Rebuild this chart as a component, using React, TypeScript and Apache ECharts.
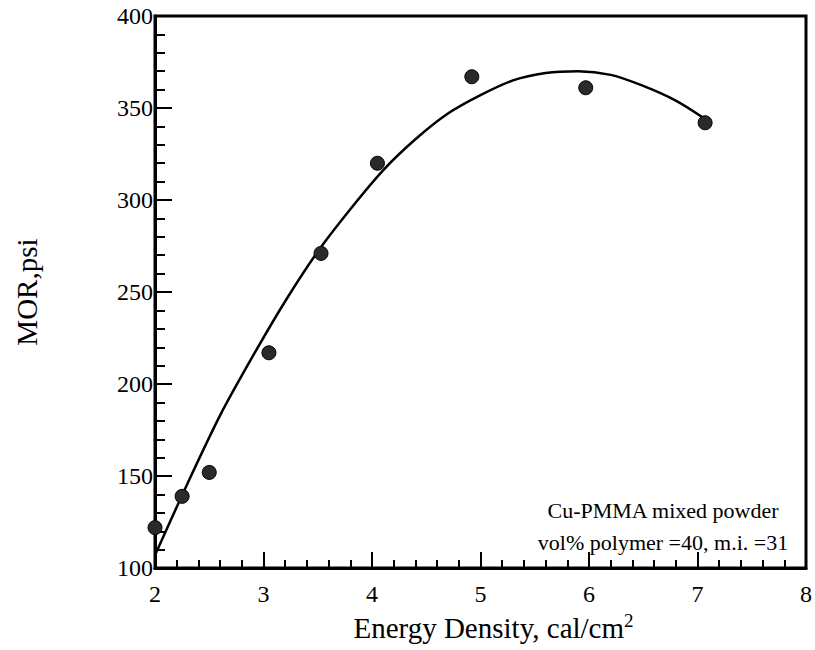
import React, { useEffect, useRef } from "react";
import * as echarts from "echarts";

// Measured points (Energy Density, MOR)
const energyDensity = [2.0, 2.25, 2.5, 3.05, 3.53, 4.05, 4.92, 5.97, 7.07];
const mor = [122, 139, 152, 217, 271, 320, 367, 361, 342];

// Fitted curve
const curveX = [2.0, 2.3, 2.6, 2.9, 3.2, 3.5, 3.8, 4.1, 4.4, 4.7, 5.0, 5.3, 5.6, 5.9, 6.2, 6.5, 6.8, 7.07];
const curveY = [107, 146, 183, 215, 245, 272, 295, 316, 333, 347, 357, 365, 369, 370, 368, 362, 354, 344];

const xTicks = [2, 3, 4, 5, 6, 7, 8];
const yTicks = [100, 150, 200, 250, 300, 350, 400];

const note = ["Cu-PMMA mixed powder", "vol% polymer =40, m.i. =31"];

const FONT = "'Liberation Serif', 'DejaVu Serif', serif";

export default function App() {
  const ref = useRef<HTMLDivElement>(null);
  useEffect(() => {
    if (!ref.current) return;
    const chart = echarts.init(ref.current, undefined, { renderer: "svg" });
    chart.setOption({
      animation: false,
      backgroundColor: "#fff",
      grid: {
        left: 155,
        right: 4,
        top: 16,
        bottom: 75,
        show: true,
        borderColor: "#000",
        borderWidth: 3,
      },
      xAxis: {
        type: "value",
        min: xTicks[0],
        max: xTicks[xTicks.length - 1],
        interval: 1,
        name: "Energy Density, cal/cm{sup|2}",
        nameLocation: "middle",
        nameGap: 36,
        nameTextStyle: {
          fontFamily: FONT,
          fontSize: 29,
          color: "#000",
          lineHeight: 34,
          padding: [0, 0, 0, 26],
          rich: {
            sup: { fontFamily: FONT, fontSize: 19, verticalAlign: "top", lineHeight: 34, color: "#000" },
          },
        },
        axisLine: { show: true, lineStyle: { color: "#000", width: 3 } },
        axisTick: { show: true, inside: true, length: 16, lineStyle: { color: "#000", width: 2 } },
        minorTick: { show: true, splitNumber: 5, length: 8, lineStyle: { color: "#000", width: 2 } },
        axisLabel: { fontFamily: FONT, fontSize: 24, color: "#000", margin: 14 },
        splitLine: { show: false },
      },
      yAxis: {
        type: "value",
        min: yTicks[0],
        max: yTicks[yTicks.length - 1],
        interval: 50,
        name: "MOR,psi",
        nameLocation: "middle",
        nameGap: 114,
        nameRotate: 90,
        nameTextStyle: { fontFamily: FONT, fontSize: 29, color: "#000" },
        axisLine: { show: true, lineStyle: { color: "#000", width: 3 } },
        axisTick: { show: true, inside: true, length: 17, lineStyle: { color: "#000", width: 2 } },
        minorTick: { show: true, splitNumber: 5, length: 10, lineStyle: { color: "#000", width: 2 } },
        axisLabel: { fontFamily: FONT, fontSize: 24, color: "#000", margin: 2 },
        splitLine: { show: false },
      },
      series: [
        {
          type: "line",
          data: curveX.map((x, i) => [x, curveY[i]]),
          smooth: 0.3,
          showSymbol: false,
          symbol: "none",
          lineStyle: { color: "#000", width: 2.5 },
          z: 2,
        },
        {
          type: "scatter",
          data: energyDensity.map((x, i) => [x, mor[i]]),
          symbol: "circle",
          symbolSize: 14,
          itemStyle: { color: "#2a2a2a", borderColor: "#000", borderWidth: 1, opacity: 1 },
          z: 3,
        },
      ],
      graphic: note.map((t, i) => ({
        type: "text",
        x: 663,
        y: 510 + i * 32,
        style: {
          text: t,
          fontFamily: FONT,
          fontSize: 22,
          fill: "#000",
          align: "center",
          verticalAlign: "middle",
        },
      })),
    });
    return () => chart.dispose();
  }, []);
  return (
    <div
      ref={ref}
      style={{ position: "fixed", left: 0, top: 0, width: 815, height: 650 }}
    />
  );
}
